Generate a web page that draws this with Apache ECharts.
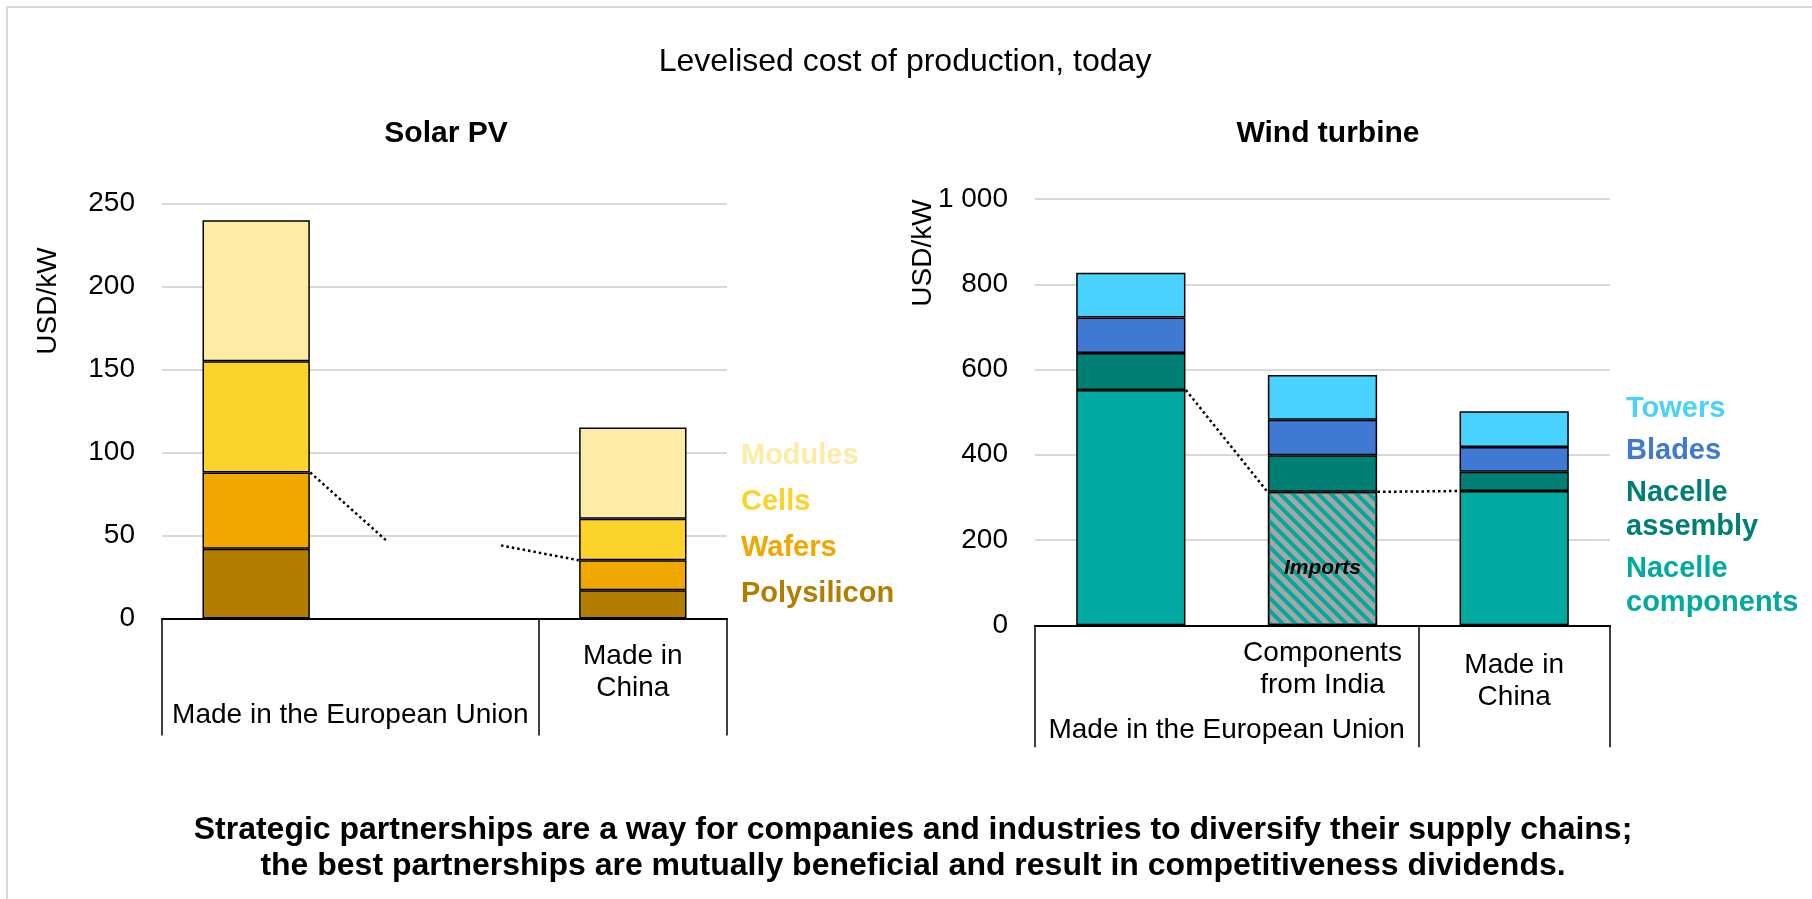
<!DOCTYPE html>
<html>
<head>
<meta charset="utf-8">
<script src="https://cdn.jsdelivr.net/npm/echarts@6/dist/echarts.min.js"></script>
<style>
  html, body { margin: 0; padding: 0; background: #fff; }
  #chart { width: 1812px; height: 899px; }
</style>
</head>
<body>
<div id="chart"></div>
<script>
// ---- data ----
// Solar PV (USD/kW)
const solarCategories = ['', '', 'Made in\nChina'];
const solarGroup = 'Made in the European Union';
const polysilicon = [42, '-', 17];
const wafers = [46, '-', 18];
const cells = [67, '-', 25];
const modules = [85, '-', 55];
const solarLinks = [
  [[0.287, 88], [0.70, 46]],
  [[1.30, 44], [1.713, 35]]
];

// Wind turbine (USD/kW)
const windCategories = ['', 'Components\nfrom India', 'Made in\nChina'];
const windGroup = 'Made in the European Union';
const nacelleComponents = [552, 313, 315];
const nacelleAssembly = [87, 86, 45];
const blades = [83, 83, 58];
const towers = [105, 105, 84];
const windLinks = [
  [[0.287, 552], [0.713, 313]],
  [[1.287, 313], [1.713, 315]]
];

const solarTicks = [0, 50, 100, 150, 200, 250];
const windTicks = [0, 200, 400, 600, 800, 1000];

// ---- styles ----
const FONT = 'Liberation Sans, Arial, sans-serif';
const colors = {
  Modules: '#FDEBA6',
  Cells: '#FCD32A',
  Wafers: '#F0A800',
  Polysilicon: '#B37D00',
  Towers: '#4AD2FF',
  Blades: '#3F79D3',
  'Nacelle assembly': '#008075',
  'Nacelle components': '#00AAA0'
};

var myChart = echarts.init(document.getElementById('chart'));

function catAxis(gridIndex, data, margin) {
  return {
    type: 'category',
    gridIndex: gridIndex,
    data: data,
    position: 'bottom',
    axisLine: { lineStyle: { color: '#000', width: 2 } },
    axisTick: {
      show: true,
      length: margin.tick,
      interval: function (i) { return i !== 1; },
      lineStyle: { color: '#000', width: 1.5 }
    },
    axisLabel: {
      interval: 0,
      margin: margin.label,
      fontFamily: FONT,
      fontSize: 28,
      lineHeight: 32,
      color: '#000'
    }
  };
}

function groupAxis(gridIndex, name, margin) {
  return {
    type: 'value',
    gridIndex: gridIndex,
    position: 'bottom',
    min: -0.5,
    max: 2.5,
    interval: 0.5,
    axisLine: { show: false },
    axisTick: { show: false },
    splitLine: { show: false },
    axisLabel: {
      margin: margin,
      fontFamily: FONT,
      fontSize: 28,
      lineHeight: 32,
      color: '#000',
      formatter: function (v) { return Math.abs(v - 0.5) < 1e-6 ? name : ''; }
    }
  };
}

function valAxis(gridIndex, ticks, fmt) {
  return {
    type: 'value',
    gridIndex: gridIndex,
    min: ticks[0],
    max: ticks[ticks.length - 1],
    interval: ticks[1] - ticks[0],
    axisLine: { show: false },
    axisTick: { show: false },
    splitLine: { lineStyle: { color: '#D9D9D9', width: 2 } },
    axisLabel: {
      margin: 27,
      fontFamily: FONT,
      fontSize: 28,
      color: '#000',
      formatter: fmt
    }
  };
}

function barSeries(name, data, xi, yi, stack) {
  return {
    name: name,
    type: 'bar',
    stack: stack,
    xAxisIndex: xi,
    yAxisIndex: yi,
    barCategoryGap: '43%',
    data: data,
    itemStyle: { color: colors[name], borderColor: '#000', borderWidth: 1.5 }
  };
}

function linkSeries(points, xi, yi) {
  return {
    type: 'line',
    xAxisIndex: xi,
    yAxisIndex: yi,
    data: points,
    symbol: 'none',
    silent: true,
    z: 5,
    lineStyle: { color: '#000', width: 2.5, type: [2.5, 3] }
  };
}

const importsData = nacelleComponents.map(function (v, i) {
  if (i !== 1) return v;
  return {
    value: v,
    itemStyle: {
      color: '#A6A6A6',
      decal: {
        symbol: 'rect',
        symbolSize: 1,
        color: '#00A99D',
        dashArrayX: [1, 0],
        dashArrayY: [4, 5],
        rotation: Math.PI / 4
      }
    },
    label: {
      show: true,
      position: 'inside',
      offset: [0, 10],
      formatter: 'Imports',
      fontFamily: FONT,
      fontSize: 21,
      fontWeight: 'bold',
      fontStyle: 'italic',
      color: '#000'
    }
  };
});

function legendData(names) {
  return names.map(function (n) {
    return { name: n, textStyle: { color: colors[n] } };
  });
}

var option = {
  backgroundColor: '#fff',
  animation: false,
  title: [
    {
      text: 'Levelised cost of production, today',
      left: 900, top: 41, textAlign: 'center',
      textStyle: { fontFamily: FONT, fontSize: 32, fontWeight: 'normal', color: '#000' }
    },
    {
      text: 'Solar PV',
      left: 441, top: 114, textAlign: 'center',
      textStyle: { fontFamily: FONT, fontSize: 30, fontWeight: 'bold', color: '#000' }
    },
    {
      text: 'Wind turbine',
      left: 1323, top: 114, textAlign: 'center',
      textStyle: { fontFamily: FONT, fontSize: 30, fontWeight: 'bold', color: '#000' }
    },
    {
      text: 'Strategic partnerships are a way for companies and industries to diversify their supply chains;\nthe best partnerships are mutually beneficial and result in competitiveness dividends.',
      left: 908, top: 807, textAlign: 'center',
      textStyle: { fontFamily: FONT, fontSize: 32, fontWeight: 'bold', color: '#000', lineHeight: 36 }
    }
  ],
  legend: [
    {
      orient: 'vertical',
      left: 735, top: 439,
      padding: 0,
      itemWidth: 0, itemHeight: 0, itemGap: 12,
      selectedMode: false,
      data: legendData(['Modules', 'Cells', 'Wafers', 'Polysilicon']),
      textStyle: { fontFamily: FONT, fontSize: 29, fontWeight: 'bold', lineHeight: 34 }
    },
    {
      orient: 'vertical',
      left: 1620, top: 392,
      padding: 0,
      itemWidth: 0, itemHeight: 0, itemGap: 8,
      selectedMode: false,
      data: legendData(['Towers', 'Blades', 'Nacelle assembly', 'Nacelle components']),
      formatter: function (n) { return n.replace(' ', '\n'); },
      textStyle: { fontFamily: FONT, fontSize: 29, fontWeight: 'bold', lineHeight: 34 }
    }
  ],
  grid: [
    { left: 162, right: 1085, top: 203.6, bottom: 280.6 },
    { left: 1035, right: 202, top: 199, bottom: 273.7 }
  ],
  xAxis: [
    catAxis(0, solarCategories, { tick: 117, label: 21.6 }),
    groupAxis(0, solarGroup, 81),
    catAxis(1, windCategories.map(function (c, i) {
      return i === 2 ? { value: c, textStyle: { padding: [12, 0, 0, 0] } } : c;
    }), { tick: 122, label: 11.7 }),
    groupAxis(1, windGroup, 89)
  ],
  yAxis: [
    valAxis(0, solarTicks, function (v) { return String(v); }),
    valAxis(1, windTicks, function (v) { return v >= 1000 ? String(v).replace(/(\d)(?=(\d{3})+$)/g, '$1 ') : String(v); })
  ],
  graphic: [
    {
      type: 'rect', z: -10, silent: true,
      shape: { x: 7, y: 7, width: 1830, height: 920 },
      style: { fill: 'none', stroke: '#D9D9D9', lineWidth: 2 }
    },
    {
      type: 'text', x: 48, y: 301, rotation: Math.PI / 2,
      style: { text: 'USD/kW', fontFamily: FONT, fontSize: 28, fill: '#000', align: 'center', verticalAlign: 'middle' }
    },
    {
      type: 'text', x: 923, y: 253, rotation: Math.PI / 2,
      style: { text: 'USD/kW', fontFamily: FONT, fontSize: 28, fill: '#000', align: 'center', verticalAlign: 'middle' }
    }
  ],
  series: [
    barSeries('Polysilicon', polysilicon, 0, 0, 'solar'),
    barSeries('Wafers', wafers, 0, 0, 'solar'),
    barSeries('Cells', cells, 0, 0, 'solar'),
    barSeries('Modules', modules, 0, 0, 'solar'),
    linkSeries(solarLinks[0], 1, 0),
    linkSeries(solarLinks[1], 1, 0),
    barSeries('Nacelle components', importsData, 2, 1, 'wind'),
    barSeries('Nacelle assembly', nacelleAssembly, 2, 1, 'wind'),
    barSeries('Blades', blades, 2, 1, 'wind'),
    barSeries('Towers', towers, 2, 1, 'wind'),
    linkSeries(windLinks[0], 3, 1),
    linkSeries(windLinks[1], 3, 1)
  ]
};

option && myChart.setOption(option);
</script>
</body>
</html>
